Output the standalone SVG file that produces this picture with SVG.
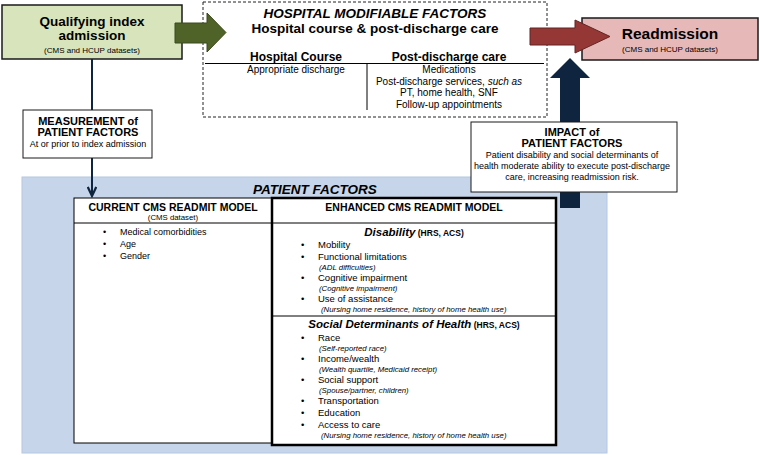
<svg xmlns="http://www.w3.org/2000/svg" width="760" height="455" viewBox="0 0 760 455">
<defs>
<style>
text{font-family:"Liberation Sans",Arial,sans-serif;fill:#000}
.b{font-weight:bold}
.i{font-style:italic}
.c{text-anchor:middle}
.box{stroke:#1a1a1a;stroke-width:1.5}
.item{font-size:9.5px}
.sub{font-size:7.8px;font-style:italic}
.conn{stroke:#0f243e;stroke-width:2;fill:none}
</style>
<marker id="chev" viewBox="0 0 12 10" refX="10" refY="5" markerWidth="12" markerHeight="10" markerUnits="userSpaceOnUse" orient="auto">
<path d="M1,0.8 L10,5 L1,9.2" fill="none" stroke="#0f243e" stroke-width="2.2"/>
</marker>
</defs>
<rect width="760" height="455" fill="#fff"/>

<g id="patient-factors-panel">
<rect x="22" y="177" width="585" height="276" fill="#c6d5e9" stroke="#b4c8e2" stroke-width="1"/>
<text class="b i c" x="315" y="194" font-size="13.5">PATIENT FACTORS</text>
</g>

<g id="current-model">
<rect x="74" y="198" width="198" height="245" fill="#fff" stroke="#000" stroke-width="1"/>
<line x1="74" y1="223" x2="272" y2="223" stroke="#000" stroke-width="1"/>
<text class="b c" x="173" y="211" font-size="10.5">CURRENT CMS READMIT MODEL</text>
<text class="c" x="173" y="220" font-size="7.8">(CMS dataset)</text>
<text x="103" y="234.5" font-size="9">•</text><text x="120" y="234.5" font-size="9">Medical comorbidities</text>
<text x="103" y="246.5" font-size="9">•</text><text x="120" y="246.5" font-size="9">Age</text>
<text x="103" y="258.5" font-size="9">•</text><text x="120" y="258.5" font-size="9">Gender</text>
</g>

<g id="enhanced-model">
<rect x="272" y="198" width="284" height="247" fill="#fff" stroke="#000" stroke-width="2.5"/>
<line x1="272" y1="223" x2="556" y2="223" stroke="#000" stroke-width="1"/>
<line x1="272" y1="316" x2="556" y2="316" stroke="#000" stroke-width="1"/>
<text class="b c" x="414" y="211" font-size="10.5">ENHANCED CMS READMIT MODEL</text>
<text class="c" x="414" y="236"><tspan class="b i" font-size="11.5">Disability</tspan><tspan class="b" font-size="8.5"> (HRS, ACS)</tspan></text>
<text class="item" x="301" y="248">•</text><text class="item" x="318" y="248">Mobility</text>
<text class="item" x="301" y="260">•</text><text class="item" x="318" y="260">Functional limitations</text>
<text class="sub" x="319" y="269.5">(ADL difficulties)</text>
<text class="item" x="301" y="280.5">•</text><text class="item" x="318" y="280.5">Cognitive impairment</text>
<text class="sub" x="319" y="290.5">(Cognitive impairment)</text>
<text class="item" x="301" y="301.5">•</text><text class="item" x="318" y="301.5">Use of assistance</text>
<text class="sub" x="321" y="311.5">(Nursing home residence, history of home health use)</text>
<text class="c" x="414" y="328"><tspan class="b i" font-size="11.5">Social Determinants of Health</tspan><tspan class="b" font-size="8.5"> (HRS, ACS)</tspan></text>
<text class="item" x="301" y="340.5">•</text><text class="item" x="318" y="340.5">Race</text>
<text class="sub" x="319" y="350.5">(Self-reported race)</text>
<text class="item" x="301" y="361.5">•</text><text class="item" x="318" y="361.5">Income/wealth</text>
<text class="sub" x="319" y="371.5">(Wealth quartile, Medicaid receipt)</text>
<text class="item" x="301" y="382.5">•</text><text class="item" x="318" y="382.5">Social support</text>
<text class="sub" x="319" y="392.5">(Spouse/partner, children)</text>
<text class="item" x="301" y="403.5">•</text><text class="item" x="318" y="403.5">Transportation</text>
<text class="item" x="301" y="415.5">•</text><text class="item" x="318" y="415.5">Education</text>
<text class="item" x="301" y="427.5">•</text><text class="item" x="318" y="427.5">Access to care</text>
<text class="sub" x="321" y="437.5">(Nursing home residence, history of home health use)</text>
</g>

<g id="hospital-factors">
<rect x="203" y="2" width="344" height="115" fill="#fff" stroke="#222" stroke-width="1" stroke-dasharray="3,2"/>
<text class="b i c" x="375" y="18" font-size="13.5">HOSPITAL MODIFIABLE FACTORS</text>
<text class="b c" x="375" y="33" font-size="13.5">Hospital course &amp; post-discharge care</text>
<text class="b c" x="296" y="61" font-size="12">Hospital Course</text>
<text class="b c" x="449" y="61" font-size="12">Post-discharge care</text>
<line x1="205" y1="63.5" x2="544" y2="63.5" stroke="#000" stroke-width="1"/>
<line x1="367" y1="63.5" x2="367" y2="110" stroke="#000" stroke-width="1"/>
<text class="c" x="296" y="73" font-size="10">Appropriate discharge</text>
<text class="c" x="449" y="73" font-size="10">Medications</text>
<text class="c" x="449" y="84.5" font-size="10">Post-discharge services, <tspan class="i">such as</tspan></text>
<text class="c" x="449" y="96" font-size="10">PT, home health, SNF</text>
<text class="c" x="449" y="107.5" font-size="10">Follow-up appointments</text>
</g>

<g id="qualifying-admission">
<rect class="box" x="2" y="5" width="180" height="54" fill="#d8e4bc" stroke-width="2"/>
<text class="b c" x="92" y="26" font-size="13.5">Qualifying index</text>
<text class="b c" x="92" y="40" font-size="13.5">admission</text>
<text class="c" x="92" y="52.5" font-size="8">(CMS and HCUP datasets)</text>
</g>

<g id="readmission">
<rect class="box" x="582" y="18" width="176" height="42" fill="#e6b9b8" stroke-width="2"/>
<text class="b c" x="670" y="39" font-size="15.5">Readmission</text>
<text class="c" x="670" y="52" font-size="8">(CMS and HCUP datasets)</text>
</g>

<g id="connectors">
<polygon points="175,23 207,23 207,13 226,32.5 207,52 207,43 175,43" fill="#4f6228" stroke="#3b4a1e" stroke-width="1"/>
<polygon points="530,28 575,28 575,20 610,36.5 575,53 575,45 530,45" fill="#953735" stroke="#632523" stroke-width="1"/>
<polygon points="570,58 590,78 580,78 580,208 560,208 560,78 550,78" fill="#0f243e"/>
<line class="conn" x1="92" y1="59" x2="92" y2="110"/>
<line class="conn" x1="92" y1="158" x2="92" y2="196" marker-end="url(#chev)"/>
</g>

<g id="measurement">
<rect x="23" y="110" width="129" height="48" fill="#fff" stroke="#1a1a1a" stroke-width="1"/>
<text class="b c" x="88" y="125" font-size="11">MEASUREMENT of</text>
<text class="b c" x="88" y="136" font-size="11">PATIENT FACTORS</text>
<text class="c" x="88" y="147" font-size="9">At or prior to index admission</text>
</g>

<g id="impact">
<rect x="471" y="122" width="206" height="70" fill="#fff" stroke="#1a1a1a" stroke-width="1"/>
<text class="b c" x="572" y="136" font-size="11">IMPACT of</text>
<text class="b c" x="572" y="147" font-size="11">PATIENT FACTORS</text>
<text class="c" x="572" y="158" font-size="9">Patient disability and social determinants of</text>
<text class="c" x="572" y="169" font-size="9">health moderate ability to execute post-discharge</text>
<text class="c" x="572" y="180" font-size="9">care, increasing readmission risk.</text>
</g>
</svg>
